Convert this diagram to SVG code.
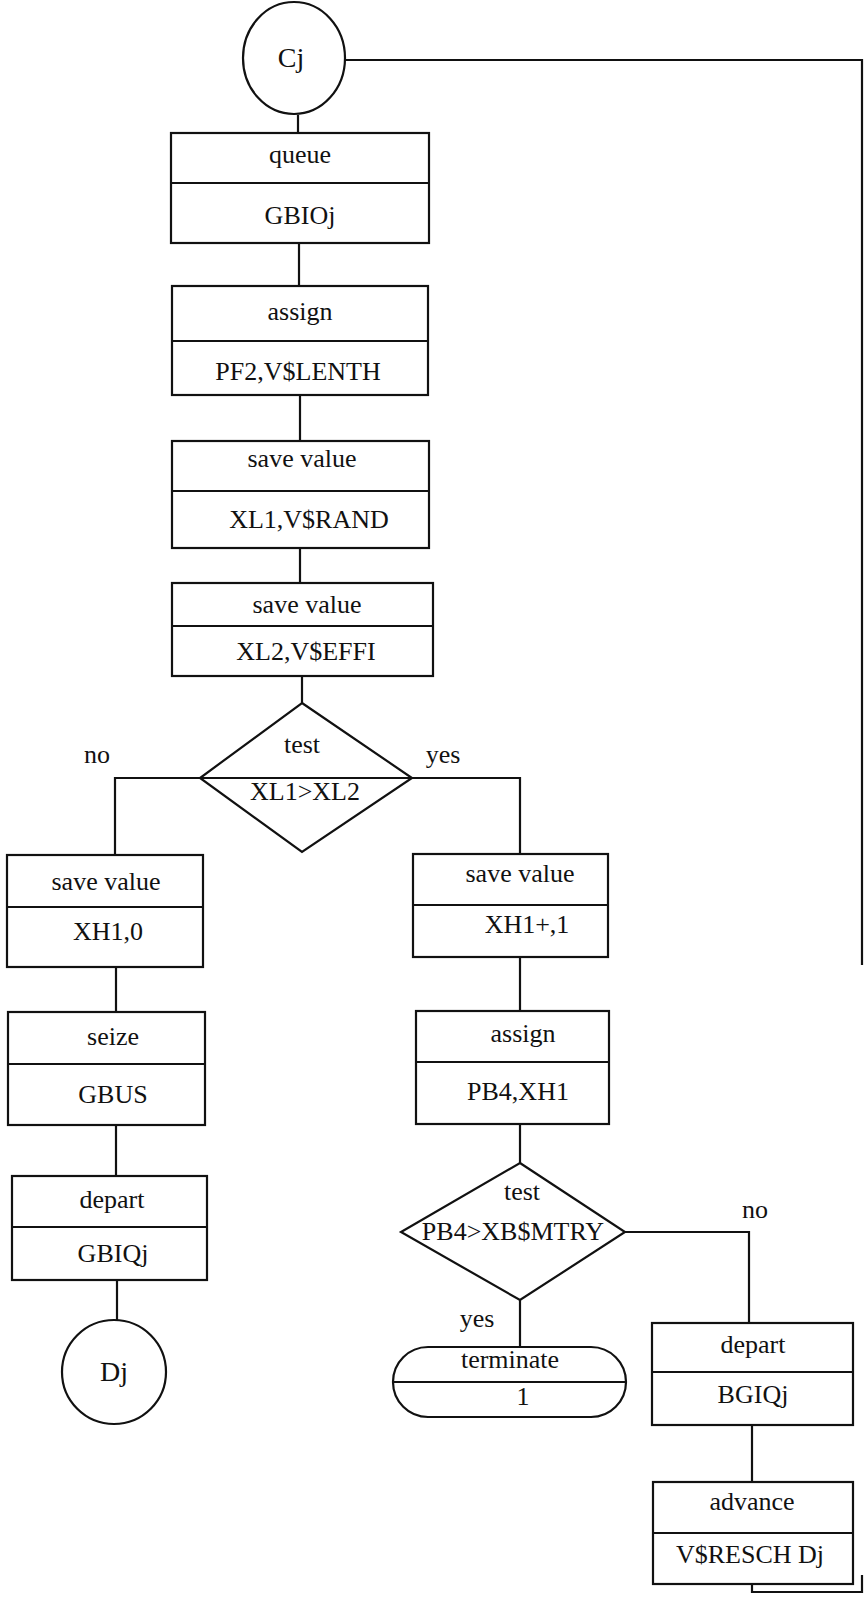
<svg xmlns="http://www.w3.org/2000/svg" width="867" height="1605" viewBox="0 0 867 1605">
<style>
.s{fill:none;stroke:#111;stroke-width:2.2}
.b{fill:#fff;stroke:#111;stroke-width:2.2}
text{font-family:"Liberation Serif","Times New Roman",serif;font-size:26px;fill:#111;text-anchor:middle}
.big{font-size:28px}
</style>
<rect width="867" height="1605" fill="#fff"/>
<g id="connectors" class="s">
<path d="M345 60 H862 V965"/>
<path d="M752 1584 V1592 H862 V1575"/>
<path d="M298 115 V133"/>
<path d="M299 243 V286"/>
<path d="M300 395 V441"/>
<path d="M300 548 V583"/>
<path d="M302 676 V703"/>
<path d="M115 855 V778 H200"/>
<path d="M412 778 H520 V854"/>
<path d="M116 967 V1012"/>
<path d="M116 1125 V1176"/>
<path d="M117 1280 V1320"/>
<path d="M520 957 V1011"/>
<path d="M520 1124 V1163"/>
<path d="M520 1300 V1347"/>
<path d="M625 1232 H749 V1323"/>
<path d="M752 1425 V1482"/>
</g>
<g id="cj"><ellipse class="b" cx="294" cy="58" rx="51" ry="56"/><text class="big" x="291" y="67">Cj</text></g>
<g id="queue"><rect class="b" x="171" y="133" width="258" height="110"/><path class="s" d="M171 183 H429"/><text x="300" y="163">queue</text><text x="300" y="224">GBIOj</text></g>
<g id="assign1"><rect class="b" x="172" y="286" width="256" height="109"/><path class="s" d="M172 341 H428"/><text x="300" y="320">assign</text><text x="298" y="380">PF2,V$LENTH</text></g>
<g id="savevalue1"><rect class="b" x="172" y="441" width="257" height="107"/><path class="s" d="M172 491 H429"/><text x="302" y="467">save value</text><text x="309" y="528">XL1,V$RAND</text></g>
<g id="savevalue2"><rect class="b" x="172" y="583" width="261" height="93"/><path class="s" d="M172 626 H433"/><text x="307" y="613">save value</text><text x="306" y="660">XL2,V$EFFI</text></g>
<g id="test1"><polygon class="b" points="302,703 412,778 302,852 200,778"/><path class="s" d="M200 778 H412"/><text x="302" y="753">test</text><text x="305" y="800">XL1&gt;XL2</text></g>
<g id="label-no1"><text x="97" y="763">no</text></g>
<g id="label-yes1"><text x="443" y="763">yes</text></g>
<g id="savevalue3"><rect class="b" x="7" y="855" width="196" height="112"/><path class="s" d="M7 907 H203"/><text x="106" y="890">save value</text><text x="108" y="940">XH1,0</text></g>
<g id="seize"><rect class="b" x="8" y="1012" width="197" height="113"/><path class="s" d="M8 1064 H205"/><text x="113" y="1045">seize</text><text x="113" y="1103">GBUS</text></g>
<g id="depart1"><rect class="b" x="12" y="1176" width="195" height="104"/><path class="s" d="M12 1227 H207"/><text x="112" y="1208">depart</text><text x="113" y="1262">GBIQj</text></g>
<g id="dj"><circle class="b" cx="114" cy="1372" r="52"/><text class="big" x="114" y="1381">Dj</text></g>
<g id="savevalue4"><rect class="b" x="413" y="854" width="195" height="103"/><path class="s" d="M413 905 H608"/><text x="520" y="882">save value</text><text x="527" y="933">XH1+,1</text></g>
<g id="assign2"><rect class="b" x="416" y="1011" width="193" height="113"/><path class="s" d="M416 1062 H609"/><text x="523" y="1042">assign</text><text x="518" y="1100">PB4,XH1</text></g>
<g id="test2"><polygon class="b" points="520,1163 625,1232 520,1300 401,1232"/><text x="522" y="1200">test</text><text x="513" y="1240">PB4&gt;XB$MTRY</text></g>
<g id="label-no2"><text x="755" y="1218">no</text></g>
<g id="label-yes2"><text x="477" y="1327">yes</text></g>
<g id="terminate"><rect class="b" x="393" y="1347" width="233" height="70" rx="35" ry="35"/><path class="s" d="M393 1382 H626"/><text x="510" y="1368">terminate</text><text x="523" y="1405">1</text></g>
<g id="depart2"><rect class="b" x="652" y="1323" width="201" height="102"/><path class="s" d="M652 1372 H853"/><text x="753" y="1353">depart</text><text x="753" y="1403">BGIQj</text></g>
<g id="advance"><rect class="b" x="653" y="1482" width="200" height="102"/><path class="s" d="M653 1533 H853"/><text x="752" y="1510">advance</text><text x="750" y="1563">V$RESCH Dj</text></g>
</svg>
